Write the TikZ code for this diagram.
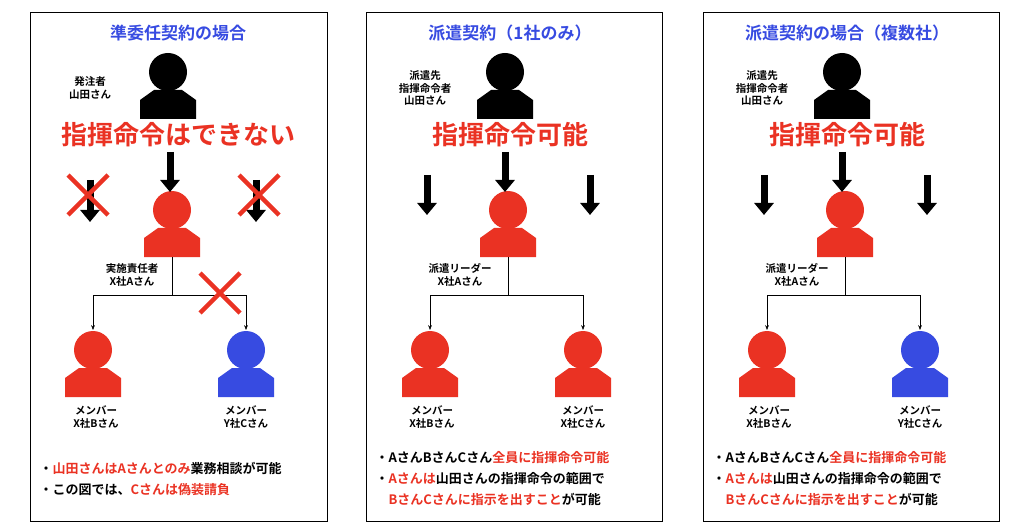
\documentclass[tikz,border=0pt]{standalone}
\usepackage{fontspec}
\setmainfont{Noto Sans CJK JP Bold}
\usetikzlibrary{arrows.meta}
\definecolor{myred}{RGB}{234,50,35}
\definecolor{myblue}{RGB}{55,75,225}
\tikzset{
  panel/.style={draw=black,line width=0.8pt},
  title/.style={font=\fontsize{17}{17}\selectfont,text=myblue},
  big/.style={font=\fontsize{26}{26}\selectfont,text=myred},
  lbl/.style={font=\fontsize{10.5}{12.5}\selectfont,align=center},
  note/.style={font=\fontsize{13}{21}\selectfont,align=left,anchor=west},
  block/.style={line width=7pt,-{Triangle[width=19pt,length=12pt]}},
  tree/.style={->,>=Stealth,thin},
  cross/.style={myred,line width=4.5pt}
}
% person icon: name, x, y (head centre), colour
\newcommand\person[4]{
  \fill[#4] (#2,#3) circle (19);
  \fill[#4] (#2-28,#3+47) -- (#2-28,#3+28) -- (#2-14,#3+18) -- (#2+14,#3+18)
    -- (#2+28,#3+28) -- (#2+28,#3+47) -- cycle;
  \coordinate (#1-top) at (#2,#3-20);
  \coordinate (#1) at (#2,#3+47);
}
\newcommand\xmark[2]{
  \draw[cross] (#1-20,#2-20) -- (#1+20,#2+20) (#1-20,#2+20) -- (#1+20,#2-20);
}
\begin{document}
\begin{tikzpicture}[x=1pt,y=-1pt]
\useasboundingbox (0,0) rectangle (1024,529);

% panel 1
\draw[panel] (30,12) rectangle (327,521);
\node[title] (t1) at (178,33) {準委任契約の場合};
\person{boss1}{168}{72}{black}
\node[lbl] (lb1) at (90,88) {発注者\\山田さん};
\node[big] (b1) at (178,135) {指揮命令はできない};
\person{lead1}{172}{210}{myred}
\coordinate (a1s) at (170,152); \coordinate (a1e) at (170,192);
\draw[block] (a1s) -- (a1e);
\coordinate (a1ls) at (90,180); \coordinate (a1le) at (90,222);
\draw[block] (a1ls) -- (a1le);
\coordinate (a1rs) at (256,180); \coordinate (a1re) at (256,222);
\draw[block] (a1rs) -- (a1re);
\xmark{88}{195}
\xmark{259}{195}
\node[lbl] (ll1) at (132,275) {実施責任者\\X社Aさん};
\person{m1b}{93}{350}{myred}
\person{m1c}{246}{350}{myblue}
\coordinate (h1) at (172,295);
\draw (lead1) -- (h1);
\draw[tree] (h1) -| (m1b-top);
\draw[tree] (h1) -| (m1c-top);
\xmark{220}{293}
\node[lbl] (ml1b) at (96,417) {メンバー\\X社Bさん};
\node[lbl] (ml1c) at (246,417) {メンバー\\Y社Cさん};
\node[note] (n1) at (36,479) {・\textcolor{myred}{山田さんはAさんとのみ}業務相談が可能\\・この図では、\textcolor{myred}{Cさんは偽装請負}};

% panel 2
\draw[panel] (366,12) rectangle (662,521);
\node[title] (t2) at (510,33) {派遣契約（1社のみ）};
\person{boss2}{505}{72}{black}
\node[lbl] (lb2) at (425,88) {派遣先\\指揮命令者\\山田さん};
\node[big] (b2) at (510,135) {指揮命令可能};
\person{lead2}{508}{210}{myred}
\coordinate (a2s) at (505,152); \coordinate (a2e) at (505,192);
\draw[block] (a2s) -- (a2e);
\coordinate (a2ls) at (427,175); \coordinate (a2le) at (427,215);
\draw[block] (a2ls) -- (a2le);
\coordinate (a2rs) at (590,175); \coordinate (a2re) at (590,215);
\draw[block] (a2rs) -- (a2re);
\node[lbl] (ll2) at (460,275) {派遣リーダー\\X社Aさん};
\person{m2b}{430}{350}{myred}
\person{m2c}{583}{350}{myred}
\coordinate (h2) at (508,295);
\draw (lead2) -- (h2);
\draw[tree] (h2) -| (m2b-top);
\draw[tree] (h2) -| (m2c-top);
\node[lbl] (ml2b) at (432,417) {メンバー\\X社Bさん};
\node[lbl] (ml2c) at (583,417) {メンバー\\X社Cさん};
\node[note] (n2) at (372,479) {・AさんBさんCさん\textcolor{myred}{全員に指揮命令可能}\\・\textcolor{myred}{Aさんは}山田さんの指揮命令の範囲で\\\phantom{・}\textcolor{myred}{BさんCさんに指示を出すこと}が可能};

% panel 3
\draw[panel] (703,12) rectangle (999,521);
\node[title] (t3) at (847,33) {派遣契約の場合（複数社）};
\person{boss3}{842}{72}{black}
\node[lbl] (lb3) at (762,88) {派遣先\\指揮命令者\\山田さん};
\node[big] (b3) at (847,135) {指揮命令可能};
\person{lead3}{845}{210}{myred}
\coordinate (a3s) at (842,152); \coordinate (a3e) at (842,192);
\draw[block] (a3s) -- (a3e);
\coordinate (a3ls) at (764,175); \coordinate (a3le) at (764,215);
\draw[block] (a3ls) -- (a3le);
\coordinate (a3rs) at (927,175); \coordinate (a3re) at (927,215);
\draw[block] (a3rs) -- (a3re);
\node[lbl] (ll3) at (797,275) {派遣リーダー\\X社Aさん};
\person{m3b}{767}{350}{myred}
\person{m3c}{920}{350}{myblue}
\coordinate (h3) at (845,295);
\draw (lead3) -- (h3);
\draw[tree] (h3) -| (m3b-top);
\draw[tree] (h3) -| (m3c-top);
\node[lbl] (ml3b) at (769,417) {メンバー\\X社Bさん};
\node[lbl] (ml3c) at (920,417) {メンバー\\Y社Cさん};
\node[note] (n3) at (709,479) {・AさんBさんCさん\textcolor{myred}{全員に指揮命令可能}\\・\textcolor{myred}{Aさんは}山田さんの指揮命令の範囲で\\\phantom{・}\textcolor{myred}{BさんCさんに指示を出すこと}が可能};
\end{tikzpicture}
\end{document}
